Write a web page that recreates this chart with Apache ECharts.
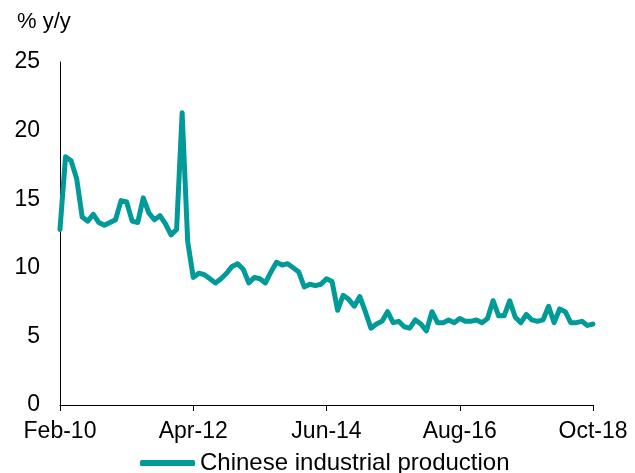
<!DOCTYPE html>
<html>
<head>
<meta charset="utf-8">
<script src="https://cdn.jsdelivr.net/npm/echarts@6/dist/echarts.min.js"></script>
<style>
html,body{margin:0;padding:0;background:#fff;}
#chart{width:635px;height:473px;}
</style>
</head>
<body>
<div id="chart"></div>
<script>
// Months shown (January is not reported separately)
var monthNames = ['Feb','Mar','Apr','May','Jun','Jul','Aug','Sep','Oct','Nov','Dec'];
var years = ['10','11','12','13','14','15','16','17','18'];
var lastYearMonths = 9; // Feb..Oct 2018

// Chinese industrial production, % y/y
var v2010 = [12.8, 18.1, 17.8, 16.5, 13.7, 13.4, 13.9, 13.3, 13.1, 13.3, 13.5];
var v2011 = [14.9, 14.8, 13.4, 13.3, 15.1, 14.0, 13.5, 13.8, 13.2, 12.4, 12.8];
var v2012 = [21.3, 11.9, 9.3, 9.6, 9.5, 9.2, 8.9, 9.2, 9.6, 10.1, 10.3];
var v2013 = [9.9, 8.9, 9.3, 9.2, 8.9, 9.7, 10.4, 10.2, 10.3, 10.0, 9.7];
var v2014 = [8.6, 8.8, 8.7, 8.8, 9.2, 9.0, 6.9, 8.0, 7.7, 7.2, 7.9];
var v2015 = [6.8, 5.6, 5.9, 6.1, 6.8, 6.0, 6.1, 5.7, 5.6, 6.2, 5.9];
var v2016 = [5.4, 6.8, 6.0, 6.0, 6.2, 6.0, 6.3, 6.1, 6.1, 6.2, 6.0];
var v2017 = [6.3, 7.6, 6.5, 6.5, 7.6, 6.4, 6.0, 6.6, 6.2, 6.1, 6.2];
var v2018 = [7.2, 6.0, 7.0, 6.8, 6.0, 6.0, 6.1, 5.8, 5.9];

var yTicks = [0, 5, 10, 15, 20, 25];
var seriesName = 'Chinese industrial production';
var yTitle = '% y/y';

var categories = [];
for (var y = 0; y < years.length; y++) {
  var n = (y === years.length - 1) ? lastYearMonths : monthNames.length;
  for (var m = 0; m < n; m++) categories.push(monthNames[m] + '-' + years[y]);
}
var values = [].concat(v2010, v2011, v2012, v2013, v2014, v2015, v2016, v2017, v2018);

var font = 'Liberation Sans, Arial, sans-serif';
var chart = echarts.init(document.getElementById('chart'), null, {renderer: 'canvas'});
chart.setOption({
  animation: false,
  backgroundColor: '#ffffff',
  graphic: [{
    type: 'text', left: 17, top: 11,
    style: {text: yTitle, fontSize: 22, fontFamily: font, fill: '#000'}
  }],
  grid: {left: 60, right: 42, top: 62, bottom: 68, containLabel: false},
  legend: {
    data: [seriesName],
    left: 140, top: 451, padding: 0,
    icon: 'roundRect', itemWidth: 55, itemHeight: 6,
    textStyle: {fontSize: 24, fontFamily: font, color: '#000'}
  },
  xAxis: {
    type: 'category',
    data: categories,
    boundaryGap: false,
    axisLine: {lineStyle: {color: '#000', width: 1}},
    axisTick: {show: true, interval: 23, length: 6, lineStyle: {color: '#000'}},
    axisLabel: {interval: 23, margin: 15, fontSize: 23, fontFamily: font, color: '#000'},
    splitLine: {show: false}
  },
  yAxis: {
    type: 'value',
    min: yTicks[0], max: yTicks[yTicks.length - 1], interval: 5,
    axisLine: {show: true, lineStyle: {color: '#000', width: 1}},
    axisTick: {show: false},
    axisLabel: {margin: 20, fontSize: 23, fontFamily: font, color: '#000'},
    splitLine: {show: false}
  },
  series: [{
    name: seriesName,
    type: 'line',
    data: values,
    showSymbol: false,
    symbol: 'none',
    lineStyle: {color: '#009a98', width: 5, join: 'round', cap: 'round'},
    itemStyle: {color: '#009a98'}
  }]
});
</script>
</body>
</html>
